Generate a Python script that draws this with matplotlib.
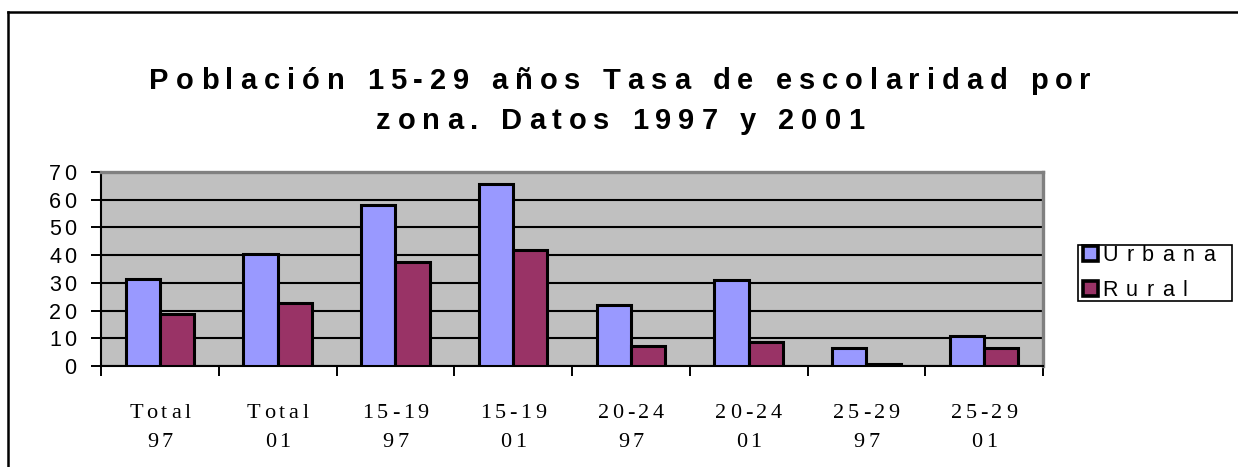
import matplotlib
matplotlib.use("Agg")
import matplotlib.pyplot as plt
import numpy as np
from matplotlib.font_manager import FontProperties
from matplotlib.textpath import TextPath
from matplotlib.transforms import IdentityTransform
from matplotlib.patches import Rectangle
from matplotlib.lines import Line2D

# data
categories = [("Total", "97"), ("Total", "01"), ("15-19", "97"), ("15-19", "01"),
              ("20-24", "97"), ("20-24", "01"), ("25-29", "97"), ("25-29", "01")]
urbana = [31.5, 40.4, 58.1, 65.6, 21.9, 30.9, 6.5, 10.8]
rural = [18.9, 22.7, 37.4, 41.8, 7.1, 8.8, 0.6, 6.5]
series_names = ["Urbana", "Rural"]
title_lines = ["Población 15-29 años Tasa de escolaridad por", "zona. Datos 1997 y 2001"]

W, H, DPI = 1238, 467, 100
fig = plt.figure(figsize=(W / DPI, H / DPI), dpi=DPI)


def adv(ch, prop):
    # advance width of one char in pixels
    w1 = TextPath((0, 0), "x" + ch + "x", prop=prop).get_extents().width
    w0 = TextPath((0, 0), "xx", prop=prop).get_extents().width
    return (w1 - w0) * DPI / 72


def spaced(x, y, s, prop, track, ha="center", va="baseline", color="black"):
    # letter-spaced text, x/y in pixels from the top-left corner
    ws = [adv(c, prop) for c in s]
    total = sum(ws) + track * (len(s) - 1)
    x0 = x - total / 2 if ha == "center" else (x - total if ha == "right" else x)
    for c, w in zip(s, ws):
        if c != " ":
            fig.text(x0 + w / 2, H - y, c, fontproperties=prop, ha="center", va=va,
                     transform=IdentityTransform(), color=color)
        x0 += w + track


# outer chart frame (only left and top visible)
fig.add_artist(Line2D([8 / W, 8 / W], [0, 1 - 12 / H], color="black", lw=1.8))
fig.add_artist(Line2D([8 / W, 1], [1 - 12 / H, 1 - 12 / H], color="black", lw=1.8))

# title
tprop = FontProperties(family="Liberation Sans", weight="bold", size=21)
spaced(620, 89, title_lines[0], tprop, 7.0)
spaced(620, 129, title_lines[1], tprop, 7.0)

left, right, top, bottom = 101, 1043, 172, 366
ax = fig.add_axes([left / W, 1 - bottom / H, (right - left) / W, (bottom - top) / H])
ax.set_facecolor("#C0C0C0")

x = np.arange(len(categories))
bw = 0.29
ax.bar(x - bw / 2, urbana, bw, color="#9999FF", edgecolor="black", linewidth=2.2, zorder=3)
ax.bar(x + bw / 2, rural, bw, color="#993366", edgecolor="black", linewidth=2.2, zorder=3)

ax.set_xlim(-0.5, len(categories) - 0.5)
ax.set_ylim(0, 70)
ax.set_yticks(range(0, 71, 10))
ax.grid(axis="y", color="black", lw=1.5, zorder=1)
ax.set_axisbelow(True)
ax.set_xticks(np.arange(len(categories) + 1) - 0.5)
ax.tick_params(axis="x", length=7, width=1.4, direction="out", labelbottom=False)
ax.tick_params(axis="y", length=7, width=1.4, direction="out", labelleft=False)
for s in ["top", "right"]:
    ax.spines[s].set_color("#808080")
    ax.spines[s].set_linewidth(2.4)
for s in ["left", "bottom"]:
    ax.spines[s].set_color("black")
    ax.spines[s].set_linewidth(1.5)

# y tick labels
yprop = FontProperties(family="Liberation Sans", size=15.5)
for v in range(0, 71, 10):
    py = bottom - (bottom - top) * v / 70
    spaced(76, py, str(v), yprop, 3.0, ha="right", va="center_baseline")

# x tick labels
xprop = FontProperties(family="Liberation Serif", size=16)
for i, (a, b) in enumerate(categories):
    px = left + (right - left) * (i + 0.5) / len(categories)
    spaced(px, 418, a, xprop, 3.6)
    spaced(px, 447, b, xprop, 3.6)

# legend
fig.add_artist(Rectangle((1078 / W, 1 - 301 / H), 154 / W, 56 / H, transform=fig.transFigure,
                         facecolor="white", edgecolor="black", lw=1.2))
lprop = FontProperties(family="Liberation Sans", size=15.5)
for j, (name, col) in enumerate(zip(series_names, ["#9999FF", "#993366"])):
    cy = 253 + j * 35
    fig.add_artist(Rectangle((1083 / W, 1 - (cy + 8) / H), 15 / W, 15 / H, transform=fig.transFigure,
                             facecolor=col, edgecolor="black", lw=2.6))
    spaced(1102, cy, name, lprop, 8.5, ha="left", va="center_baseline")

fig.savefig("out.png", dpi=DPI)
